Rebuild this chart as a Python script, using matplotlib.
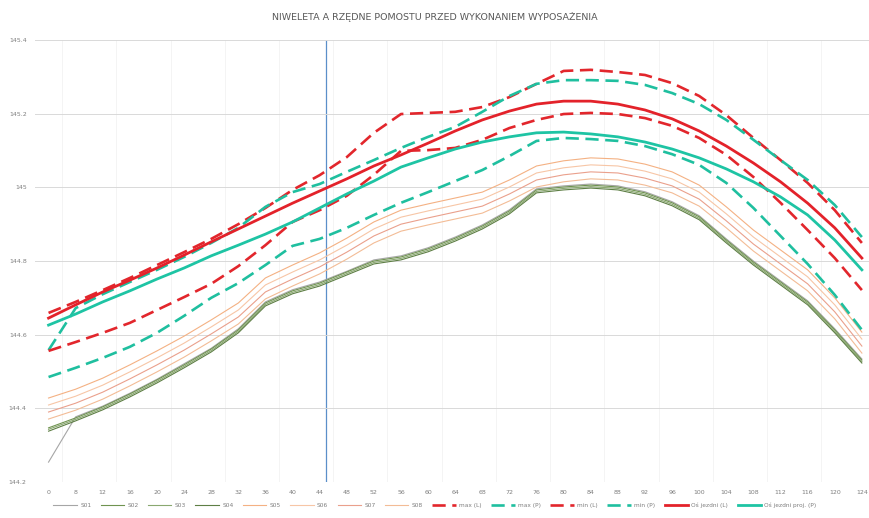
import matplotlib
matplotlib.use("Agg")
import matplotlib.pyplot as plt

# ---------------- data ----------------
title = "NIWELETA A RZĘDNE POMOSTU PRZED WYKONANIEM WYPOSAŻENIA"
x_labels = ["0"] + [str(v) for v in range(8, 125, 4)]
y_ticks = [144.2, 144.4, 144.6, 144.8, 145.0, 145.2, 145.4]
y_tick_labels = ["144.2", "144.4", "144.6", "144.8", "145", "145.2", "145.4"]
marker_x = 10.25

g1 = [144.254, 144.377, 144.406, 144.441, 144.479, 144.521, 144.563, 144.616, 144.689, 144.722, 144.743, 144.772, 144.803, 144.814, 144.836, 144.865, 144.898, 144.939, 144.996, 145.004, 145.009, 145.004, 144.988, 144.961, 144.923, 144.860, 144.800, 144.746, 144.692, 144.616, 144.534]
g2 = [144.347, 144.374, 144.404, 144.439, 144.477, 144.518, 144.561, 144.613, 144.686, 144.719, 144.740, 144.770, 144.800, 144.811, 144.833, 144.862, 144.895, 144.936, 144.993, 145.001, 145.006, 145.001, 144.985, 144.958, 144.920, 144.857, 144.797, 144.743, 144.689, 144.613, 144.531]
g3 = [144.343, 144.370, 144.400, 144.435, 144.473, 144.514, 144.557, 144.609, 144.682, 144.715, 144.736, 144.766, 144.796, 144.807, 144.829, 144.858, 144.891, 144.932, 144.989, 144.997, 145.002, 144.997, 144.981, 144.954, 144.916, 144.853, 144.793, 144.739, 144.685, 144.609, 144.527]
g4 = [144.338, 144.366, 144.396, 144.431, 144.469, 144.510, 144.553, 144.605, 144.678, 144.711, 144.732, 144.762, 144.792, 144.803, 144.825, 144.854, 144.887, 144.928, 144.985, 144.993, 144.998, 144.993, 144.977, 144.950, 144.912, 144.849, 144.789, 144.735, 144.681, 144.605, 144.523]

s1 = [144.428, 144.452, 144.482, 144.518, 144.556, 144.596, 144.640, 144.686, 144.754, 144.789, 144.822, 144.862, 144.906, 144.938, 144.955, 144.971, 144.987, 145.020, 145.058, 145.072, 145.080, 145.077, 145.063, 145.042, 145.006, 144.947, 144.884, 144.830, 144.776, 144.700, 144.607]
s2 = [144.409, 144.433, 144.463, 144.499, 144.537, 144.577, 144.621, 144.667, 144.735, 144.770, 144.803, 144.843, 144.887, 144.919, 144.936, 144.952, 144.968, 145.001, 145.039, 145.053, 145.061, 145.058, 145.044, 145.023, 144.987, 144.928, 144.865, 144.811, 144.757, 144.681, 144.588]
s3 = [144.390, 144.414, 144.444, 144.480, 144.518, 144.558, 144.602, 144.648, 144.716, 144.751, 144.784, 144.824, 144.868, 144.900, 144.917, 144.933, 144.949, 144.982, 145.020, 145.034, 145.042, 145.039, 145.025, 145.004, 144.968, 144.909, 144.846, 144.792, 144.738, 144.662, 144.569]
s4 = [144.371, 144.395, 144.425, 144.461, 144.499, 144.539, 144.583, 144.629, 144.697, 144.732, 144.765, 144.805, 144.849, 144.881, 144.898, 144.914, 144.930, 144.963, 145.001, 145.015, 145.023, 145.020, 145.006, 144.985, 144.949, 144.890, 144.827, 144.773, 144.719, 144.643, 144.550]

red_dash_up = [144.659, 144.689, 144.721, 144.754, 144.789, 144.824, 144.860, 144.900, 144.944, 144.993, 145.033, 145.082, 145.148, 145.199, 145.202, 145.205, 145.218, 145.245, 145.281, 145.316, 145.319, 145.313, 145.305, 145.283, 145.248, 145.196, 145.134, 145.074, 145.012, 144.938, 144.849]
teal_dash_up = [144.558, 144.672, 144.710, 144.743, 144.776, 144.811, 144.849, 144.890, 144.947, 144.987, 145.009, 145.042, 145.074, 145.107, 145.137, 145.164, 145.205, 145.248, 145.281, 145.291, 145.291, 145.289, 145.278, 145.256, 145.226, 145.183, 145.129, 145.074, 145.020, 144.952, 144.865]
red_dash_low = [144.556, 144.580, 144.605, 144.632, 144.667, 144.702, 144.738, 144.786, 144.843, 144.906, 144.938, 144.977, 145.034, 145.099, 145.101, 145.107, 145.129, 145.161, 145.183, 145.199, 145.202, 145.199, 145.188, 145.167, 145.134, 145.088, 145.028, 144.958, 144.884, 144.808, 144.721]
teal_dash_low = [144.485, 144.510, 144.537, 144.567, 144.605, 144.651, 144.700, 144.740, 144.789, 144.841, 144.860, 144.890, 144.925, 144.958, 144.987, 145.017, 145.047, 145.085, 145.126, 145.134, 145.131, 145.126, 145.112, 145.090, 145.061, 145.012, 144.944, 144.868, 144.792, 144.708, 144.613]
red_solid = [144.645, 144.681, 144.716, 144.748, 144.781, 144.816, 144.852, 144.887, 144.922, 144.957, 144.990, 145.023, 145.058, 145.088, 145.120, 145.153, 145.183, 145.207, 145.226, 145.234, 145.234, 145.226, 145.210, 145.186, 145.153, 145.112, 145.066, 145.015, 144.957, 144.890, 144.808]
teal_solid = [144.626, 144.656, 144.689, 144.719, 144.751, 144.781, 144.814, 144.843, 144.873, 144.906, 144.944, 144.982, 145.017, 145.055, 145.080, 145.104, 145.123, 145.137, 145.148, 145.150, 145.145, 145.137, 145.123, 145.104, 145.080, 145.050, 145.015, 144.974, 144.925, 144.857, 144.776]

labels = ["S01", "S02", "S03", "S04", "S05", "S06", "S07", "S08",
          "max (L)", "max (P)", "min (L)", "min (P)", "Oś jezdni (L)", "Oś jezdni proj. (P)"]

# ---------------- figure ----------------
plt.rcParams['font.family'] = ['DejaVu Sans']
fig = plt.figure(figsize=(8.7, 5.18), dpi=100)
ax = fig.add_axes([35 / 870, 36 / 518, 835 / 870, 442 / 518])
x = list(range(len(x_labels)))

thin = [(g1, '#a6a6a6'), (g2, '#6f9350'), (g3, '#8aa870'), (g4, '#5e7f45'),
        (s1, '#f4b183'), (s2, '#f7c6a6'), (s3, '#eaa08c'), (s4, '#f3bc96')]
handles = []
for data, col in thin:
    h, = ax.plot(x, data, color=col, lw=0.8, solid_joinstyle='round')
    handles.append(h)

dash = (5, 2.5)
h, = ax.plot(x, red_dash_up, color='#e2262c', lw=1.9, dashes=dash); handles.append(h)
h, = ax.plot(x, teal_dash_up, color='#1fbf9f', lw=1.9, dashes=dash); handles.append(h)
h, = ax.plot(x, red_dash_low, color='#e2262c', lw=1.9, dashes=dash); handles.append(h)
h, = ax.plot(x, teal_dash_low, color='#1fbf9f', lw=1.9, dashes=dash); handles.append(h)
h, = ax.plot(x, red_solid, color='#e3222a', lw=2.0); handles.append(h)
h, = ax.plot(x, teal_solid, color='#1ec4a4', lw=2.0); handles.append(h)

ax.axvline(marker_x, color='#5b8fc9', lw=0.9, zorder=0.5)

ax.set_xlim(-0.5, 30.3)
ax.set_ylim(144.2, 145.4)
ax.set_xticks(x)
ax.set_xticklabels(x_labels)
ax.set_yticks(y_ticks)
ax.set_yticklabels(y_tick_labels)
ax.tick_params(axis='both', length=0, labelsize=4.5, labelcolor='#7f7f7f', pad=6)
ax.grid(axis='y', color='#d9d9d9', lw=0.7)
for xv in range(0, 31, 2):
    ax.axvline(xv + 0.5, color='#f2f2f2', lw=0.6, zorder=0)
ax.set_axisbelow(True)
for sp in ax.spines.values():
    sp.set_visible(False)

fig.text(0.5, 1 - 17 / 518, title, ha='center', va='center', fontsize=6.8, color='#595959')

fig.legend(handles, labels, loc='center', bbox_to_anchor=(0.5, 1 - 505 / 518), ncol=14,
           frameon=False, fontsize=4.2, handlelength=4, columnspacing=1.6, handletextpad=0.6,
           labelcolor='#7f7f7f')

fig.savefig("out.png", dpi=100, facecolor='white')
